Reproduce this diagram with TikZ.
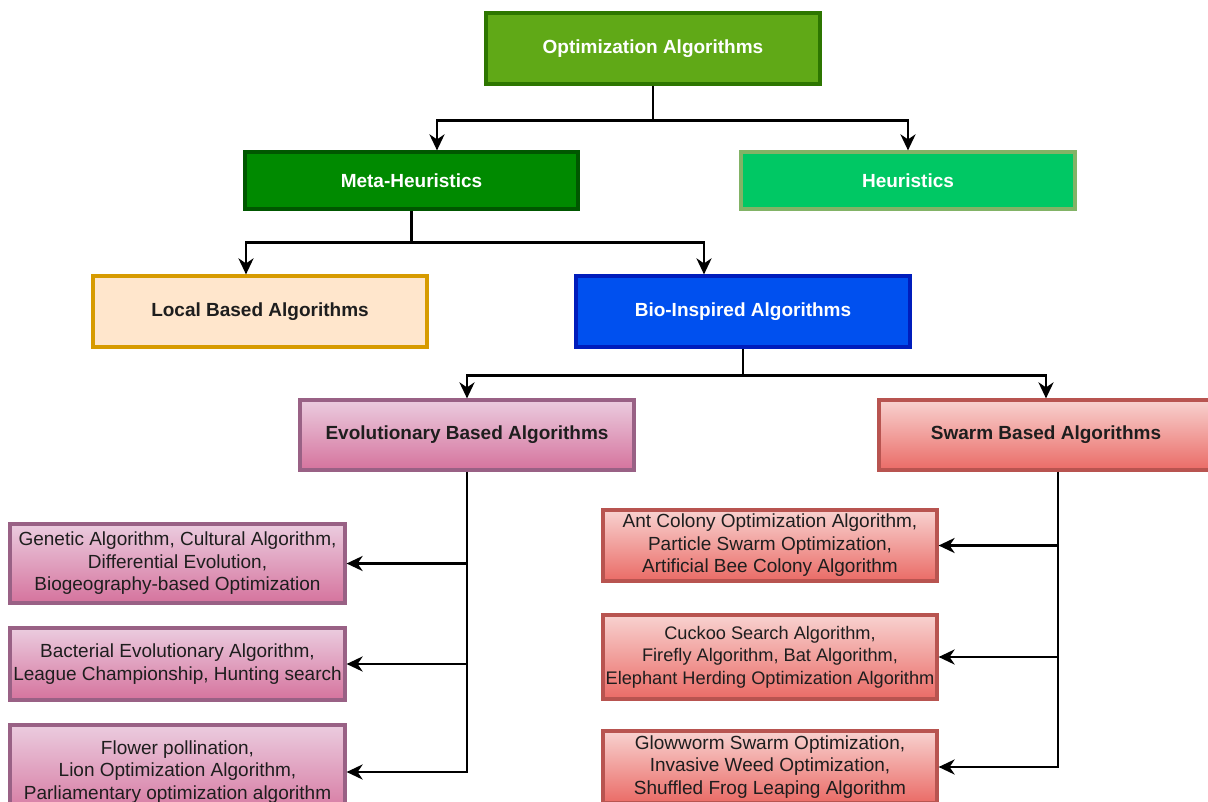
\documentclass[tikz,border=0pt]{standalone}
\usepackage{fontspec}
\setmainfont{Liberation Sans}
\usetikzlibrary{arrows.meta,calc}
\definecolor{optF}{HTML}{60A917}\definecolor{optD}{HTML}{2D7600}
\definecolor{metaF}{HTML}{008A00}\definecolor{metaD}{HTML}{005700}
\definecolor{heurF}{HTML}{00C864}\definecolor{heurD}{HTML}{82B366}
\definecolor{locF}{HTML}{FFE6CC}\definecolor{locD}{HTML}{D79B00}
\definecolor{bioF}{HTML}{0050EF}\definecolor{bioD}{HTML}{001DBC}
\definecolor{pinkT}{HTML}{EBCCDF}\definecolor{pinkB}{HTML}{D5739D}\definecolor{pinkD}{HTML}{996185}
\definecolor{redT}{HTML}{F8D2D0}\definecolor{redB}{HTML}{EA6B66}\definecolor{redD}{HTML}{B85450}
\definecolor{txt}{HTML}{1E1E1E}
\tikzset{
  box/.style={rectangle, line width=3.2pt, inner xsep=0pt, inner ysep=2pt, align=center,
    font=\fontsize{19}{22.5}\selectfont},
  hbox/.style={box, font=\fontsize{19}{22.5}\selectfont\bfseries},
  pinkbox/.style={top color=pinkT, bottom color=pinkB, draw=pinkD, text=txt},
  redbox/.style={top color=redT, bottom color=redB, draw=redD, text=txt},
  conn/.style={line width=2.8pt, black},
  arr/.style={conn, -{Stealth[length=16pt,width=15pt,inset=5pt]}},
}
\begin{document}
\begin{tikzpicture}[x=1pt,y=-1pt]
\useasboundingbox (0,0) rectangle (1208,801);
\clip (0,0) rectangle (1208,801);
% level 0-1
\node[hbox, fill=optF, draw=optD, text=white, minimum width=334pt, minimum height=71pt] (opt) at (653,48.5) {Optimization Algorithms};
\node[hbox, fill=metaF, draw=metaD, text=white, minimum width=333pt, minimum height=57pt] (meta) at (411.5,180.5) {Meta-Heuristics};
\node[hbox, fill=heurF, draw=heurD, text=white, minimum width=334pt, minimum height=57pt] (heur) at (908,180.5) {Heuristics};
% level 2
\node[hbox, fill=locF, draw=locD, text=txt, minimum width=334pt, minimum height=71pt] (local) at (260,311.5) {Local Based Algorithms};
\node[hbox, fill=bioF, draw=bioD, text=white, minimum width=334pt, minimum height=71pt] (bio) at (743,311.5) {Bio-Inspired Algorithms};
% level 3
\node[hbox, pinkbox, minimum width=334pt, minimum height=70pt] (evo) at (467,435) {Evolutionary Based Algorithms};
\node[hbox, redbox, minimum width=334pt, minimum height=70pt] (swarm) at (1046,435) {Swarm Based Algorithms};
% leaves evolutionary
\node[box, pinkbox, minimum width=335pt, minimum height=79pt] (e1) at (177.5,563.5) {Genetic Algorithm, Cultural Algorithm,\\Differential Evolution,\\Biogeography-based Optimization};
\node[box, pinkbox, minimum width=335pt, minimum height=72pt] (e2) at (177.5,664) {Bacterial Evolutionary Algorithm,\\League Championship, Hunting search};
\node[box, pinkbox, minimum width=335pt, minimum height=94pt] (e3) at (177.5,772) {Flower pollination,\\Lion Optimization Algorithm,\\Parliamentary optimization algorithm};
% leaves swarm
\node[box, redbox, minimum width=334pt, minimum height=71pt] (s1) at (770,545.5) {Ant Colony Optimization Algorithm,\\Particle Swarm Optimization,\\Artificial Bee Colony Algorithm};
\node[box, redbox, font=\fontsize{18.2}{22.5}\selectfont, minimum width=334pt, minimum height=84pt] (s2) at (770,657) {Cuckoo Search Algorithm,\\Firefly Algorithm, Bat Algorithm,\\Elephant Herding Optimization Algorithm};
\node[box, redbox, minimum width=334pt, minimum height=72pt] (s3) at (770,767) {Glowworm Swarm Optimization,\\Invasive Weed Optimization,\\Shuffled Frog Leaping Algorithm};
% connectors
\coordinate (b1) at ($(opt.south)+(0,35)$);
\draw[conn] (opt.south) -- (b1);
\draw[arr] (b1) -| ([xshift=25.5pt]meta.north);
\draw[arr] (b1) -| (heur.north);
\coordinate (b2) at ($(meta.south)+(0,32)$);
\draw[conn] (meta.south) -- (b2);
\draw[arr] (b2) -| ([xshift=-14pt]local.north);
\draw[arr] (b2) -| ([xshift=-39pt]bio.north);
\coordinate (b3) at ($(bio.south)+(0,27)$);
\draw[conn] (bio.south) -- (b3);
\draw[arr] (b3) -| (evo.north);
\draw[arr] (b3) -| (swarm.north);
\draw[arr] (evo.south) |- (e3.east);
\draw[arr] (evo.south |- e1.east) -- (e1.east);
\draw[arr] (evo.south |- e2.east) -- (e2.east);
\coordinate (sw) at ([xshift=12pt]swarm.south);
\draw[arr] (sw) |- (s3.east);
\draw[arr] (sw |- s1.east) -- (s1.east);
\draw[arr] (sw |- s2.east) -- (s2.east);
\end{tikzpicture}
\end{document}
